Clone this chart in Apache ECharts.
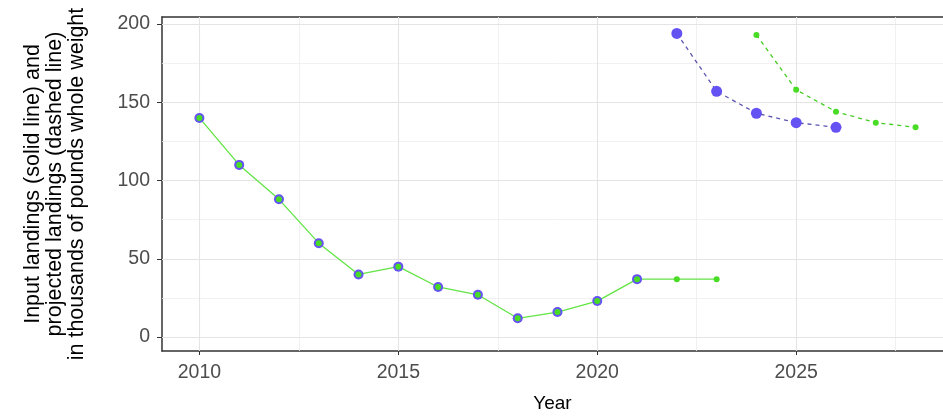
<!DOCTYPE html>
<html>
<head>
<meta charset="utf-8">
<script src="https://cdn.jsdelivr.net/npm/echarts@6/dist/echarts.min.js"></script>
<style>
html,body{margin:0;padding:0;background:#fff;}
#chart{width:943px;height:418px;}
</style>
</head>
<body>
<div id="chart"></div>
<script>
// Input landings (solid line)
const inputYears  = [2010,2011,2012,2013,2014,2015,2016,2017,2018,2019,2020,2021,2022,2023];
const inputValues = [140,110,88,60,40,45,32,27,12,16,23,37,37,37];
// Observed (big purple markers)
const obsYears  = [2010,2011,2012,2013,2014,2015,2016,2017,2018,2019,2020,2021];
const obsValues = [140,110,88,60,40,45,32,27,12,16,23,37];
// Projected landings (dashed lines)
const projPurpleYears  = [2022,2023,2024,2025,2026];
const projPurpleValues = [194,157,143,137,134];
const projGreenYears   = [2024,2025,2026,2027,2028];
const projGreenValues  = [193,158,144,137,134];
// Axis ticks
const xTicks = [2010,2015,2020,2025];
const xMinor = [2012.5,2017.5,2022.5,2027.5];
const yTicks = [0,50,100,150,200];
const yMinor = [25,75,125,175];

const pairs = (xs, ys) => xs.map((x, i) => [x, ys[i]]);

const PURPLE = '#6552f2';
const GREEN_PT = '#48dc24';
const GREEN_LN = '#62e444';
const GRID_MAJ = '#e4e4e4';
const GRID_MIN = '#eeeeee';
const FONT = 'Liberation Sans, Arial, sans-serif';

const gridLines = []
  .concat(xMinor.map(v => ({xAxis: v, lineStyle: {color: GRID_MIN, width: 0.8, type: 'solid'}})))
  .concat(yMinor.map(v => ({yAxis: v, lineStyle: {color: GRID_MIN, width: 0.8, type: 'solid'}})))
  .concat(xTicks.map(v => ({xAxis: v, lineStyle: {color: GRID_MAJ, width: 1.1, type: 'solid'}})))
  .concat(yTicks.map(v => ({yAxis: v, lineStyle: {color: GRID_MAJ, width: 1.1, type: 'solid'}})));

const chart = echarts.init(document.getElementById('chart'), null, {renderer: 'canvas'});
chart.setOption({
  animation: false,
  backgroundColor: '#fff',
  grid: {left: 162, top: 17, right: 0, bottom: 67, show: false},
  xAxis: [{
    type: 'value', min: 2009.06, max: 2028.69,
    name: 'Year', nameLocation: 'middle', nameGap: 43,
    nameTextStyle: {fontFamily: FONT, fontSize: 19, color: '#000'},
    axisLine: {show: true, onZero: false, lineStyle: {color: '#333', width: 1.5}},
    axisTick: {show: true, length: 4, lineStyle: {color: '#333', width: 1}, customValues: xTicks},
    axisLabel: {customValues: xTicks, margin: 12, fontFamily: FONT, fontSize: 19.5, color: '#4d4d4d', formatter: v => String(v)},
    splitLine: {show: false}
  }, {
    type: 'value', position: 'top', min: 2009.06, max: 2028.69,
    axisLine: {show: true, onZero: false, lineStyle: {color: '#333', width: 1.5}},
    axisTick: {show: false}, axisLabel: {show: false}, splitLine: {show: false}
  }],
  yAxis: {
    type: 'value', min: -8.9, max: 204.5,
    name: 'Input landings (solid line) and\nprojected landings (dashed line)\nin thousands of pounds whole weight',
    nameLocation: 'middle', nameRotate: 90, nameGap: 74,
    nameTextStyle: {fontFamily: FONT, fontSize: 21.5, lineHeight: 22, color: '#000', align: 'center'},
    axisLine: {show: true, onZero: false, lineStyle: {color: '#333', width: 1.5}},
    axisTick: {show: true, length: 5, lineStyle: {color: '#333', width: 1}, customValues: yTicks},
    axisLabel: {customValues: yTicks, margin: 12, fontFamily: FONT, fontSize: 19.5, color: '#4d4d4d'},
    splitLine: {show: false}
  },
  series: [
    {
      type: 'line', z: 3, data: pairs(inputYears, inputValues),
      showSymbol: false, symbol: 'none',
      lineStyle: {color: GREEN_LN, width: 1.3},
      markLine: {silent: true, z: 1, symbol: ['none', 'none'], label: {show: false}, animation: false, data: gridLines}
    },
    {
      type: 'scatter', z: 4, data: pairs(obsYears, obsValues),
      symbol: 'circle', symbolSize: 10, itemStyle: {color: PURPLE, opacity: 1}
    },
    {
      type: 'scatter', z: 5, data: pairs(inputYears, inputValues),
      symbol: 'circle', symbolSize: 6, itemStyle: {color: GREEN_PT, opacity: 1}
    },
    {
      type: 'line', z: 4, data: pairs(projPurpleYears, projPurpleValues),
      symbol: 'circle', symbolSize: 11, showSymbol: true,
      itemStyle: {color: PURPLE, borderWidth: 0},
      lineStyle: {color: '#5b55b0', width: 1.3, type: [4, 4]}
    },
    {
      type: 'line', z: 4, data: pairs(projGreenYears, projGreenValues),
      symbol: 'circle', symbolSize: 6, showSymbol: true,
      itemStyle: {color: GREEN_PT, borderWidth: 0},
      lineStyle: {color: '#44cc22', width: 1.3, type: [4, 4]}
    }
  ]
});
</script>
</body>
</html>
